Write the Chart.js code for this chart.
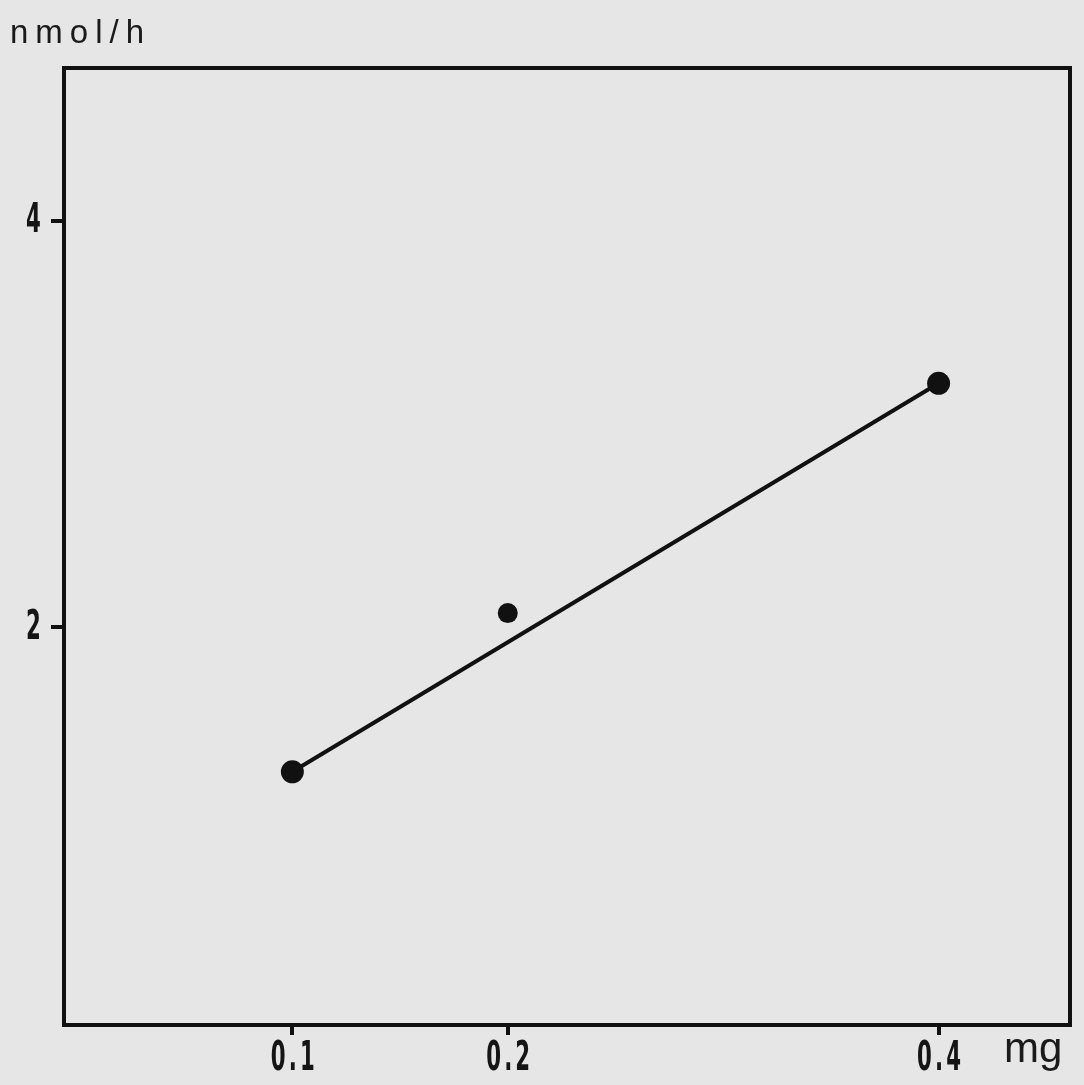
<!DOCTYPE html>
<html>
<head>
<meta charset="utf-8">
<script src="https://cdn.jsdelivr.net/npm/chart.js@4.4.1/dist/chart.umd.min.js"></script>
<style>
  html, body { margin: 0; padding: 0; background: #e6e6e6; }
  #wrap { width: 1084px; height: 1085px; }
</style>
</head>
<body>
<div id="wrap"><canvas id="c"></canvas></div>
<script>
// valeurs
const doseMg = [0.1, 0.2, 0.4];
const rateNmolH = [1.29, 2.07, 3.20];
// droite de régression
const fitX = [0.1, 0.4];
const fitY = [1.29, 3.20];
// graduations
const xTicks = [0.1, 0.2, 0.4];
const yTicks = [2, 4];
const yUnit = 'nmol/h';
const xUnit = 'mg';

const ink = '#111';

// chiffres étroits (police condensée de la figure d'origine)
function narrowText(ctx, txt, x, y, align) {
  ctx.save();
  ctx.font = 'bold 41px "DejaVu Sans", sans-serif';
  ctx.letterSpacing = '6px';
  ctx.textBaseline = 'middle';
  ctx.textAlign = align;
  ctx.translate(x, y);
  ctx.scale(0.52, 1);
  ctx.fillText(txt, 0, 0);
  ctx.restore();
}

// cadre, étiquettes et unités
const framePlugin = {
  id: 'frame',
  beforeDatasetsDraw(chart) {
    const { ctx, chartArea: a } = chart;
    ctx.save();
    ctx.strokeStyle = ink;
    ctx.lineWidth = 4;
    ctx.strokeRect(a.left, a.top, a.right - a.left, a.bottom - a.top);
    ctx.restore();
  },
  afterDraw(chart) {
    const ctx = chart.ctx;
    const sx = chart.scales.x, sy = chart.scales.y;
    ctx.save();
    ctx.fillStyle = '#151515';
    sx.ticks.forEach(t => narrowText(ctx, String(t.value), sx.getPixelForValue(t.value) + 2, 1059, 'center'));
    sy.ticks.forEach(t => narrowText(ctx, String(t.value), 44, sy.getPixelForValue(t.value) + 1, 'right'));

    ctx.fillStyle = '#1a1a1a';
    ctx.textBaseline = 'alphabetic';
    ctx.textAlign = 'left';
    ctx.font = '33px "Liberation Sans", sans-serif';
    ctx.letterSpacing = '7px';
    ctx.fillText(yUnit, 10, 43);
    ctx.font = '42px "Liberation Sans", sans-serif';
    ctx.letterSpacing = '0px';
    ctx.fillText(xUnit, 1004, 1062);
    ctx.restore();
  }
};

new Chart(document.getElementById('c'), {
  type: 'scatter',
  data: {
    datasets: [
      {
        label: 'fit',
        data: fitX.map((x, i) => ({ x: x, y: fitY[i] })),
        showLine: true,
        borderColor: ink,
        borderWidth: 4,
        pointRadius: 0,
      },
      {
        label: 'mesures',
        data: doseMg.map((x, i) => ({ x: x, y: rateNmolH[i] })),
        backgroundColor: ink,
        borderColor: ink,
        borderWidth: 0,
        pointRadius: ctx => ctx.dataIndex === 1 ? 10 : 11.5,
      },
    ],
  },
  options: {
    responsive: true,
    maintainAspectRatio: false,
    animation: false,
    layout: { padding: { top: 68, right: 14, left: 0, bottom: 0 } },
    plugins: {
      legend: { display: false },
      tooltip: { enabled: false },
    },
    scales: {
      x: {
        type: 'linear',
        min: -0.006,
        max: 0.461,
        afterBuildTicks: s => { s.ticks = xTicks.map(v => ({ value: v })); },
        afterFit: s => { s.height = 60; },
        border: { display: false },
        grid: { drawOnChartArea: false, drawTicks: true, tickLength: 10, color: ink, lineWidth: 4 },
        ticks: { color: 'rgba(0,0,0,0)', font: { size: 20 }, padding: 0, maxRotation: 0, callback: v => String(v) },
      },
      y: {
        type: 'linear',
        min: 0.045,
        max: 4.75,
        afterBuildTicks: s => { s.ticks = yTicks.map(v => ({ value: v })); },
        afterFit: s => { s.width = 64; },
        border: { display: false },
        grid: { drawOnChartArea: false, drawTicks: true, tickLength: 13, color: ink, lineWidth: 4 },
        ticks: { color: 'rgba(0,0,0,0)', font: { size: 20 }, padding: 4, callback: v => String(v) },
      },
    },
  },
  plugins: [framePlugin],
});
</script>
</body>
</html>
